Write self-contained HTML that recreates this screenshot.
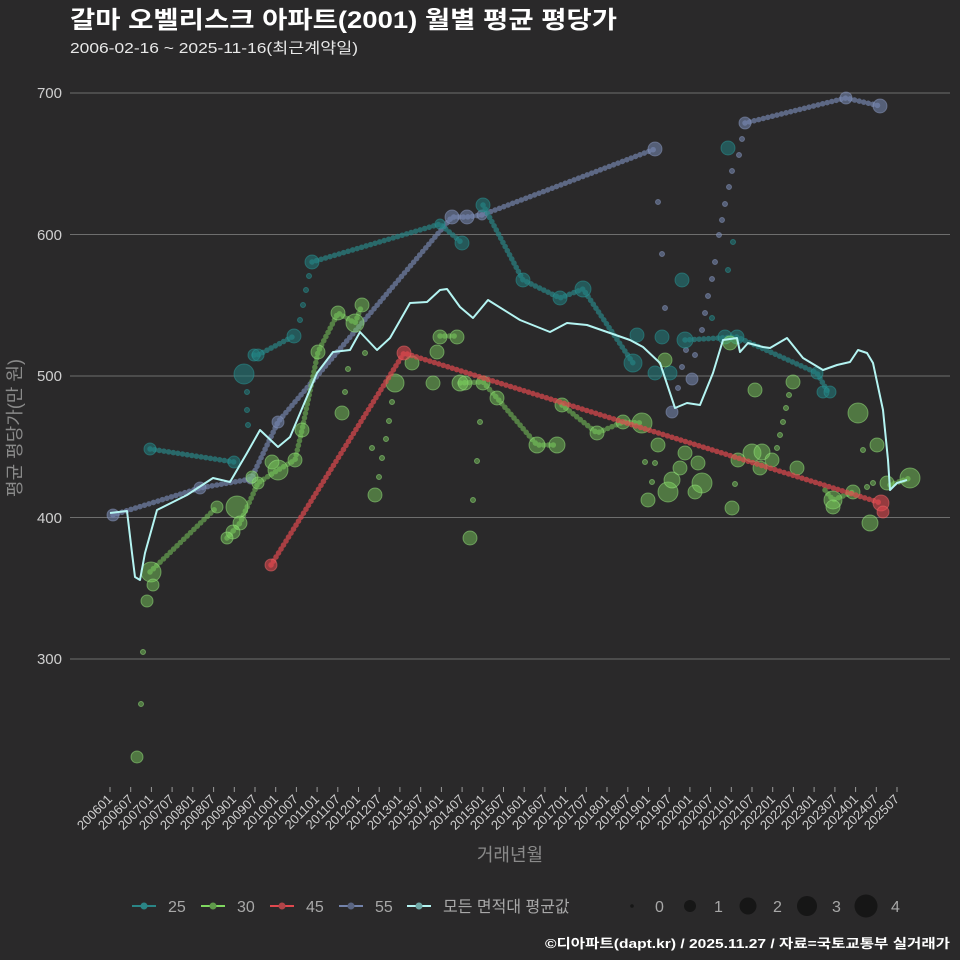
<!DOCTYPE html>
<html><head><meta charset="utf-8"><style>
html,body{margin:0;padding:0;background:#2a292a;}
svg{display:block;font-family:"Liberation Sans","Noto Sans CJK KR",sans-serif;}
.d{fill:none;stroke-width:5.5;stroke-dasharray:0.1 4.6;stroke-linecap:round;}
.t{stroke:#2a8586;opacity:.7}.g{stroke:#7fd860;opacity:.5}.r{stroke:#e0484e;opacity:.7}.s{stroke:#7383ab;opacity:.7}
.ct{fill:#21807f;fill-opacity:.55;stroke:#2a9a9a;stroke-opacity:.5}
.cg{fill:#7fd860;fill-opacity:.45;stroke:#9ae87f;stroke-opacity:.5}
.cr{fill:#e0484e;fill-opacity:.6;stroke:#f06a6a;stroke-opacity:.5}
.cs{fill:#7383ab;fill-opacity:.6;stroke:#8b9ac0;stroke-opacity:.5}
.xl{font-size:13px;fill:#cfcfcf;text-anchor:end}
</style></head><body>
<svg width="960" height="960" viewBox="0 0 960 960">
<rect width="960" height="960" fill="#2a292a"/>
<text x="70" y="28" font-size="24" font-weight="bold" fill="#fff" textLength="547" lengthAdjust="spacingAndGlyphs">갈마 오벨리스크 아파트(2001) 월별 평균 평당가</text>
<text x="70" y="53" font-size="15" fill="#e8e8e8" textLength="288" lengthAdjust="spacingAndGlyphs">2006-02-16 ~ 2025-11-16(최근계약일)</text>
<g stroke="#6e6e6e" stroke-width="1">
<line x1="70" x2="950" y1="93" y2="93"/><line x1="70" x2="950" y1="234.5" y2="234.5"/><line x1="70" x2="950" y1="376" y2="376"/><line x1="70" x2="950" y1="517.5" y2="517.5"/><line x1="70" x2="950" y1="659" y2="659"/>
</g>
<g font-size="15" fill="#cfcfcf" text-anchor="end">
<text x="62" y="98">700</text><text x="62" y="240">600</text><text x="62" y="381">500</text><text x="62" y="523">400</text><text x="62" y="664">300</text>
</g>
<text transform="translate(21,428) rotate(-90)" font-size="18" fill="#8a8a8a" text-anchor="middle">평균 평당가(만 원)</text>

<!-- 55 -->
<polyline class="d s" points="113,515 200,488 251,479"/>
<polyline class="d s" points="251,479 278,422 452,217 467,217 482,215 655,149"/>
<polyline class="d s" points="745,123 846,98 880,106"/>
<g class="cs">
<circle cx="113" cy="515" r="6"/><circle cx="200" cy="488" r="6"/><circle cx="251" cy="479" r="5"/><circle cx="278" cy="422" r="6"/>
<circle cx="452" cy="217" r="7"/><circle cx="467" cy="217" r="7"/><circle cx="482" cy="215" r="5"/><circle cx="655" cy="149" r="7"/>
<circle cx="672" cy="412" r="6"/><circle cx="692" cy="379" r="6"/><circle cx="745" cy="123" r="6"/><circle cx="846" cy="98" r="6"/><circle cx="880" cy="106" r="7"/>
<circle cx="658" cy="202" r="2.5"/><circle cx="662" cy="254" r="2.5"/><circle cx="665" cy="308" r="2.5"/>
<circle cx="678" cy="388" r="2.5"/><circle cx="682" cy="367" r="2.5"/><circle cx="686" cy="350" r="2.5"/><circle cx="695" cy="355" r="2.5"/>
<circle cx="702" cy="330" r="2.5"/><circle cx="705" cy="313" r="2.5"/><circle cx="708" cy="296" r="2.5"/><circle cx="712" cy="279" r="2.5"/><circle cx="715" cy="262" r="2.5"/>
<circle cx="719" cy="235" r="2.5"/><circle cx="722" cy="220" r="2.5"/><circle cx="725" cy="204" r="2.5"/><circle cx="729" cy="187" r="2.5"/><circle cx="732" cy="171" r="2.5"/><circle cx="739" cy="155" r="2.5"/><circle cx="742" cy="139" r="2.5"/>
</g>
<!-- 25 -->
<polyline class="d t" points="150,449 234,462"/>
<polyline class="d t" points="254,355 258,355 294,336"/>
<polyline class="d t" points="312,262 440,224 462,243"/>
<polyline class="d t" points="483,205 523,280 560,298 583,289 633,363"/>
<polyline class="d t" points="685,340 737,337 817,373 828,392"/>
<g class="ct">
<circle cx="150" cy="449" r="6"/><circle cx="234" cy="462" r="6"/><circle cx="244" cy="374" r="10"/><circle cx="254" cy="355" r="6"/><circle cx="258" cy="355" r="6"/>
<circle cx="294" cy="336" r="7"/><circle cx="312" cy="262" r="7"/><circle cx="440" cy="224" r="5"/><circle cx="462" cy="243" r="7"/><circle cx="483" cy="205" r="7"/>
<circle cx="523" cy="280" r="7"/><circle cx="560" cy="298" r="7"/><circle cx="583" cy="289" r="8"/><circle cx="637" cy="335" r="7"/><circle cx="633" cy="363" r="9"/>
<circle cx="655" cy="373" r="7"/><circle cx="670" cy="373" r="7"/><circle cx="662" cy="337" r="7"/><circle cx="682" cy="280" r="7"/><circle cx="685" cy="340" r="8"/>
<circle cx="728" cy="148" r="7"/><circle cx="725" cy="337" r="7"/><circle cx="737" cy="337" r="7"/><circle cx="817" cy="373" r="6"/><circle cx="823" cy="392" r="6"/><circle cx="830" cy="392" r="6"/>
<circle cx="247" cy="392" r="2.5"/><circle cx="247" cy="410" r="2.5"/><circle cx="248" cy="425" r="2.5"/>
<circle cx="300" cy="320" r="2.5"/><circle cx="303" cy="305" r="2.5"/><circle cx="306" cy="290" r="2.5"/><circle cx="309" cy="276" r="2.5"/>
<circle cx="733" cy="242" r="2.5"/><circle cx="728" cy="270" r="2.5"/><circle cx="712" cy="318" r="2.5"/>
</g>
<!-- 30 -->
<polyline class="d g" points="150,572 217,507"/>
<polyline class="d g" points="227,538 240,523 258,483 278,470 295,460 302,430 318,352 338,313 355,323 362,305"/>
<polyline class="d g" points="440,336 457,336"/>
<polyline class="d g" points="460,383 483,382 497,398 537,445 557,445"/>
<polyline class="d g" points="562,405 597,433 623,422 642,423"/>
<polyline class="d g" points="825,490 833,500 853,492"/>
<polyline class="d g" points="890,485 910,478"/>
<g class="cg">
<circle cx="137" cy="757" r="6"/><circle cx="141" cy="704" r="2.5"/><circle cx="143" cy="652" r="2.5"/><circle cx="147" cy="601" r="6"/><circle cx="151" cy="572" r="10"/><circle cx="153" cy="585" r="6"/>
<circle cx="217" cy="507" r="6"/><circle cx="237" cy="507" r="11"/><circle cx="240" cy="523" r="7"/><circle cx="233" cy="532" r="7"/><circle cx="227" cy="538" r="6"/>
<circle cx="258" cy="483" r="6"/><circle cx="252" cy="477" r="6"/><circle cx="272" cy="462" r="7"/><circle cx="278" cy="470" r="10"/><circle cx="295" cy="460" r="7"/><circle cx="302" cy="430" r="7"/>
<circle cx="318" cy="352" r="7"/><circle cx="338" cy="313" r="7"/><circle cx="362" cy="305" r="7"/><circle cx="355" cy="323" r="9"/><circle cx="342" cy="413" r="7"/><circle cx="375" cy="495" r="7"/>
<circle cx="395" cy="383" r="9"/><circle cx="412" cy="363" r="7"/><circle cx="433" cy="383" r="7"/><circle cx="440" cy="337" r="7"/><circle cx="457" cy="337" r="7"/><circle cx="437" cy="352" r="7"/>
<circle cx="460" cy="383" r="8"/><circle cx="465" cy="383" r="7"/><circle cx="483" cy="383" r="7"/><circle cx="497" cy="398" r="7"/><circle cx="470" cy="538" r="7"/>
<circle cx="537" cy="445" r="8"/><circle cx="557" cy="445" r="8"/><circle cx="562" cy="405" r="7"/><circle cx="597" cy="433" r="7"/><circle cx="623" cy="422" r="7"/><circle cx="642" cy="423" r="10"/>
<circle cx="665" cy="360" r="7"/><circle cx="658" cy="445" r="7"/><circle cx="648" cy="500" r="7"/><circle cx="668" cy="492" r="10"/><circle cx="672" cy="480" r="8"/><circle cx="685" cy="453" r="7"/>
<circle cx="680" cy="468" r="7"/><circle cx="702" cy="483" r="10"/><circle cx="695" cy="492" r="7"/><circle cx="698" cy="463" r="7"/><circle cx="730" cy="343" r="7"/><circle cx="755" cy="390" r="7"/>
<circle cx="732" cy="508" r="7"/><circle cx="738" cy="460" r="7"/><circle cx="752" cy="453" r="9"/><circle cx="762" cy="452" r="8"/><circle cx="772" cy="460" r="7"/><circle cx="760" cy="468" r="7"/>
<circle cx="793" cy="382" r="7"/><circle cx="797" cy="468" r="7"/><circle cx="833" cy="500" r="9"/><circle cx="833" cy="507" r="7"/><circle cx="853" cy="492" r="7"/><circle cx="858" cy="413" r="10"/>
<circle cx="877" cy="445" r="7"/><circle cx="870" cy="523" r="8"/><circle cx="887" cy="483" r="7"/><circle cx="910" cy="478" r="10"/>
<circle cx="365" cy="353" r="2.5"/><circle cx="348" cy="369" r="2.5"/><circle cx="345" cy="392" r="2.5"/><circle cx="392" cy="402" r="2.5"/><circle cx="389" cy="421" r="2.5"/><circle cx="386" cy="439" r="2.5"/>
<circle cx="382" cy="458" r="2.5"/><circle cx="379" cy="477" r="2.5"/><circle cx="372" cy="448" r="2.5"/><circle cx="473" cy="500" r="2.5"/><circle cx="477" cy="461" r="2.5"/><circle cx="480" cy="422" r="2.5"/>
<circle cx="645" cy="462" r="2.5"/><circle cx="655" cy="463" r="2.5"/><circle cx="652" cy="482" r="2.5"/>
<circle cx="777" cy="448" r="2.5"/><circle cx="780" cy="435" r="2.5"/><circle cx="783" cy="422" r="2.5"/><circle cx="786" cy="408" r="2.5"/><circle cx="789" cy="395" r="2.5"/>
<circle cx="863" cy="450" r="2.5"/><circle cx="867" cy="487" r="2.5"/><circle cx="873" cy="483" r="2.5"/><circle cx="735" cy="484" r="2.5"/>
</g>
<!-- 45 -->
<polyline class="d r" points="271,565 404,353 881,503"/>
<g class="cr"><circle cx="271" cy="565" r="6"/><circle cx="404" cy="353" r="7"/><circle cx="881" cy="503" r="8"/><circle cx="883" cy="512" r="6"/></g>
<!-- average -->
<polyline fill="none" stroke="#b4f4f2" stroke-width="2" stroke-linejoin="round" points="110,513 127,511 132,553 135,577 140,580 145,553 157,510 187,495 213,478 230,482 247,453 260,430 278,447 290,437 317,373 333,352 350,350 360,332 377,350 390,338 410,303 427,302 440,290 447,289 460,307 473,318 488,300 520,320 550,332 567,323 587,325 630,340 643,347 660,363 675,408 687,403 700,405 713,373 723,340 737,338 740,352 748,343 763,347 770,348 787,338 803,358 823,370 837,365 850,362 858,350 867,353 873,363 883,410 888,460 890,490 897,483 907,480"/>

<g stroke="#9a9a9a" stroke-width="1">
<line x1="110" x2="110" y1="787" y2="792"/><line x1="130.7" x2="130.7" y1="787" y2="792"/><line x1="151.4" x2="151.4" y1="787" y2="792"/><line x1="172.1" x2="172.1" y1="787" y2="792"/><line x1="192.8" x2="192.8" y1="787" y2="792"/><line x1="213.6" x2="213.6" y1="787" y2="792"/><line x1="234.3" x2="234.3" y1="787" y2="792"/><line x1="255" x2="255" y1="787" y2="792"/><line x1="275.7" x2="275.7" y1="787" y2="792"/><line x1="296.4" x2="296.4" y1="787" y2="792"/><line x1="317.1" x2="317.1" y1="787" y2="792"/><line x1="337.8" x2="337.8" y1="787" y2="792"/><line x1="358.5" x2="358.5" y1="787" y2="792"/><line x1="379.2" x2="379.2" y1="787" y2="792"/><line x1="399.9" x2="399.9" y1="787" y2="792"/><line x1="420.7" x2="420.7" y1="787" y2="792"/><line x1="441.4" x2="441.4" y1="787" y2="792"/><line x1="462.1" x2="462.1" y1="787" y2="792"/><line x1="482.8" x2="482.8" y1="787" y2="792"/><line x1="503.5" x2="503.5" y1="787" y2="792"/><line x1="524.2" x2="524.2" y1="787" y2="792"/><line x1="544.9" x2="544.9" y1="787" y2="792"/><line x1="565.6" x2="565.6" y1="787" y2="792"/><line x1="586.3" x2="586.3" y1="787" y2="792"/><line x1="607" x2="607" y1="787" y2="792"/><line x1="627.8" x2="627.8" y1="787" y2="792"/><line x1="648.5" x2="648.5" y1="787" y2="792"/><line x1="669.2" x2="669.2" y1="787" y2="792"/><line x1="689.9" x2="689.9" y1="787" y2="792"/><line x1="710.6" x2="710.6" y1="787" y2="792"/><line x1="731.3" x2="731.3" y1="787" y2="792"/><line x1="752" x2="752" y1="787" y2="792"/><line x1="772.7" x2="772.7" y1="787" y2="792"/><line x1="793.4" x2="793.4" y1="787" y2="792"/><line x1="814.1" x2="814.1" y1="787" y2="792"/><line x1="834.9" x2="834.9" y1="787" y2="792"/><line x1="855.6" x2="855.6" y1="787" y2="792"/><line x1="876.3" x2="876.3" y1="787" y2="792"/><line x1="897" x2="897" y1="787" y2="792"/>
</g>
<g class="xl">
<text x="113" y="800" transform="rotate(-45 113 800)">200601</text>
<text x="134" y="800" transform="rotate(-45 134 800)">200607</text>
<text x="154" y="800" transform="rotate(-45 154 800)">200701</text>
<text x="175" y="800" transform="rotate(-45 175 800)">200707</text>
<text x="196" y="800" transform="rotate(-45 196 800)">200801</text>
<text x="216" y="800" transform="rotate(-45 216 800)">200807</text>
<text x="237" y="800" transform="rotate(-45 237 800)">200901</text>
<text x="258" y="800" transform="rotate(-45 258 800)">200907</text>
<text x="279" y="800" transform="rotate(-45 279 800)">201001</text>
<text x="299" y="800" transform="rotate(-45 299 800)">201007</text>
<text x="320" y="800" transform="rotate(-45 320 800)">201101</text>
<text x="341" y="800" transform="rotate(-45 341 800)">201107</text>
<text x="361" y="800" transform="rotate(-45 361 800)">201201</text>
<text x="382" y="800" transform="rotate(-45 382 800)">201207</text>
<text x="403" y="800" transform="rotate(-45 403 800)">201301</text>
<text x="424" y="800" transform="rotate(-45 424 800)">201307</text>
<text x="444" y="800" transform="rotate(-45 444 800)">201401</text>
<text x="465" y="800" transform="rotate(-45 465 800)">201407</text>
<text x="486" y="800" transform="rotate(-45 486 800)">201501</text>
<text x="506" y="800" transform="rotate(-45 506 800)">201507</text>
<text x="527" y="800" transform="rotate(-45 527 800)">201601</text>
<text x="548" y="800" transform="rotate(-45 548 800)">201607</text>
<text x="569" y="800" transform="rotate(-45 569 800)">201701</text>
<text x="589" y="800" transform="rotate(-45 589 800)">201707</text>
<text x="610" y="800" transform="rotate(-45 610 800)">201801</text>
<text x="631" y="800" transform="rotate(-45 631 800)">201807</text>
<text x="651" y="800" transform="rotate(-45 651 800)">201901</text>
<text x="672" y="800" transform="rotate(-45 672 800)">201907</text>
<text x="693" y="800" transform="rotate(-45 693 800)">202001</text>
<text x="714" y="800" transform="rotate(-45 714 800)">202007</text>
<text x="734" y="800" transform="rotate(-45 734 800)">202101</text>
<text x="755" y="800" transform="rotate(-45 755 800)">202107</text>
<text x="776" y="800" transform="rotate(-45 776 800)">202201</text>
<text x="796" y="800" transform="rotate(-45 796 800)">202207</text>
<text x="817" y="800" transform="rotate(-45 817 800)">202301</text>
<text x="838" y="800" transform="rotate(-45 838 800)">202307</text>
<text x="859" y="800" transform="rotate(-45 859 800)">202401</text>
<text x="879" y="800" transform="rotate(-45 879 800)">202407</text>
<text x="900" y="800" transform="rotate(-45 900 800)">202507</text>
</g>
<text x="510" y="861" font-size="18" fill="#8a8a8a" text-anchor="middle">거래년월</text>

<!-- legend -->
<g font-size="16" fill="#a8a8a8">
<line x1="132" x2="156" y1="906" y2="906" stroke="#2a8586" stroke-width="2"/><circle cx="144" cy="906" r="3.5" fill="#2a8586"/><text x="168" y="912">25</text>
<line x1="201" x2="225" y1="906" y2="906" stroke="#7fd860" stroke-width="2"/><circle cx="213" cy="906" r="3.5" fill="#5f9a4a"/><text x="237" y="912">30</text>
<line x1="270" x2="294" y1="906" y2="906" stroke="#e0484e" stroke-width="2"/><circle cx="282" cy="906" r="3.5" fill="#b04448"/><text x="306" y="912">45</text>
<line x1="339" x2="363" y1="906" y2="906" stroke="#7383ab" stroke-width="2"/><circle cx="351" cy="906" r="3.5" fill="#5a6582"/><text x="375" y="912">55</text>
<line x1="407" x2="431" y1="906" y2="906" stroke="#b4f4f2" stroke-width="2"/><circle cx="419" cy="906" r="3.5" fill="#6fa8a6"/><text x="443" y="912">모든 면적대 평균값</text>
<circle cx="632" cy="906" r="1.8" fill="#161616"/><text x="655" y="912">0</text>
<circle cx="690" cy="906" r="6" fill="#161616"/><text x="714" y="912">1</text>
<circle cx="748" cy="906" r="8.5" fill="#161616"/><text x="773" y="912">2</text>
<circle cx="807" cy="906" r="10" fill="#161616"/><text x="832" y="912">3</text>
<circle cx="866" cy="906" r="11.5" fill="#161616"/><text x="891" y="912">4</text>
</g>
<text x="950" y="948" font-size="13" font-weight="bold" fill="#fff" text-anchor="end" textLength="405" lengthAdjust="spacingAndGlyphs">©디아파트(dapt.kr) / 2025.11.27 / 자료=국토교통부 실거래가</text>
</svg>
</body></html>
